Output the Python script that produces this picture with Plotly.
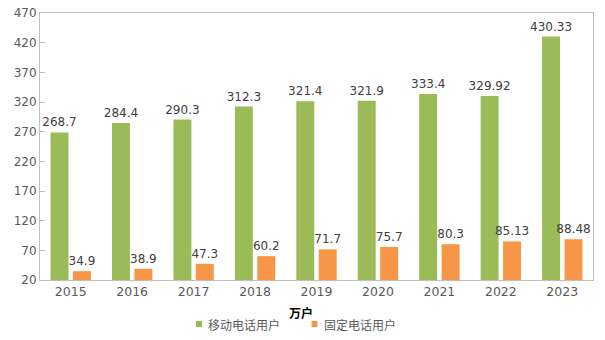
import plotly.graph_objects as go

years = ["2015", "2016", "2017", "2018", "2019", "2020", "2021", "2022", "2023"]
mobile = [268.7, 284.4, 290.3, 312.3, 321.4, 321.9, 333.4, 329.92, 430.33]
fixed = [34.9, 38.9, 47.3, 60.2, 71.7, 75.7, 80.3, 85.13, 88.48]
mobile_labels = ["268.7", "284.4", "290.3", "312.3", "321.4", "321.9", "333.4", "329.92", "430.33"]
fixed_labels = ["34.9", "38.9", "47.3", "60.2", "71.7", "75.7", "80.3", "85.13", "88.48"]
y_ticks = [20, 70, 120, 170, 220, 270, 320, 370, 420, 470]
series_names = ["移动电话用户", "固定电话用户"]
series_colors = ["#9BBB59", "#F79646"]
unit_label = "万户"

font_family = "DejaVu Sans, Noto Sans CJK SC, sans-serif"
W, H = 605, 340
L, R, T, B = 40, 12, 13, 60
PW, PH = W - L - R, H - T - B


def px_x(x):
    return (x - L) / PW


def px_y(y):
    return (H - B - y) / PH


fig = go.Figure()
for vals, labels, name, color in [(mobile, mobile_labels, series_names[0], series_colors[0]),
                                  (fixed, fixed_labels, series_names[1], series_colors[1])]:
    fig.add_trace(go.Bar(
        x=years, y=vals, name=name,
        marker=dict(color=color, line=dict(width=0)),
        text=labels, textposition="outside", cliponaxis=False,
        constraintext="none",
        textfont=dict(size=12, color="#404040", family=font_family),
        showlegend=False,
    ))

# Custom legend (small squares + text)
legend_items = [(199, series_names[0], series_colors[0]), (314.5, series_names[1], series_colors[1])]
leg_y = 324
for x0, name, color in legend_items:
    fig.add_shape(type="rect", xref="paper", yref="paper",
                  x0=px_x(x0 - 3), x1=px_x(x0 + 3),
                  y0=px_y(leg_y + 3), y1=px_y(leg_y - 3),
                  fillcolor=color, line=dict(width=0))
    fig.add_annotation(text=name, xref="paper", yref="paper",
                       x=px_x(x0 + 7), y=px_y(leg_y + 1),
                       xanchor="left", yanchor="middle", showarrow=False,
                       font=dict(size=12, color="#595959", family=font_family))

fig.add_annotation(text="<b>" + unit_label + "</b>", xref="paper", yref="paper",
                   x=px_x(301), y=px_y(313),
                   xanchor="center", yanchor="middle", showarrow=False,
                   font=dict(size=12, color="#000000", family=font_family))

fig.update_layout(
    width=W, height=H,
    margin=dict(l=L, r=R, t=T, b=B, autoexpand=False),
    paper_bgcolor="white", plot_bgcolor="white",
    barmode="group", bargap=0.27, bargroupgap=0.2,
    font=dict(family=font_family, size=12, color="#595959"),
    showlegend=False,
    xaxis=dict(
        showline=True, linecolor="#BFBFBF", linewidth=1, mirror=True,
        ticks="", tickfont=dict(size=12.5, color="#595959"), automargin=False,
    ),
    yaxis=dict(
        range=[20, 470], tickvals=y_ticks, showgrid=False,
        showline=True, linecolor="#BFBFBF", linewidth=1, mirror=True,
        ticks="inside", ticklen=5, tickcolor="#BFBFBF",
        tickfont=dict(size=12, color="#595959"), zeroline=False, automargin=False,
    ),
)

fig.write_html("out.html")
